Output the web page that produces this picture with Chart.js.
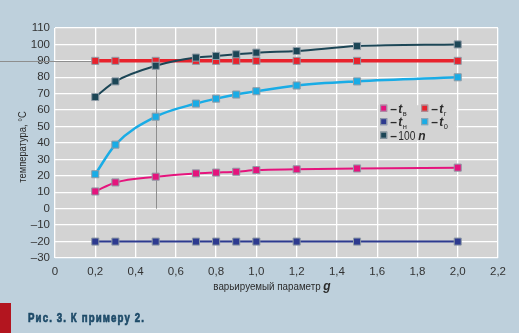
<!DOCTYPE html>
<html>
<head>
<meta charset="utf-8">
<script src="https://cdn.jsdelivr.net/npm/chart.js@4"></script>
<style>
  html, body { margin: 0; padding: 0; background: #bed0dc; }
  #wrap { width: 519px; height: 333px; position: relative; }
</style>
</head>
<body>
<div id="wrap"><canvas id="tempChart" width="519" height="333"></canvas></div>
<script>
// варьируемый параметр g
const gValues = [0.2, 0.3, 0.5, 0.7, 0.8, 0.9, 1.0, 1.2, 1.5, 2.0];
// температуры, °С
const tV = [10.5, 16, 19.5, 21.5, 22, 22.5, 23.5, 24, 24.5, 25];
const tG = [90, 90, 90, 90, 90, 90, 90, 90, 90, 90];
const tN = [-20, -20, -20, -20, -20, -20, -20, -20, -20, -20];
const t0 = [21, 39, 56, 64, 67, 69.5, 71.5, 75, 77.5, 80];
const n100 = [68, 77.5, 87, 92, 93, 94, 95, 96, 99, 100];

const yTicks = [-30, -20, -10, 0, 10, 20, 30, 40, 50, 60, 70, 80, 90, 100, 110];
const xTicks = [0, 0.2, 0.4, 0.6, 0.8, 1.0, 1.2, 1.4, 1.6, 1.8, 2.0, 2.2];

const FONT = '"Liberation Sans Narrow", "Liberation Sans", Arial, sans-serif';

function pts(ys) {
  return gValues.map((g, i) => ({ x: g, y: ys[i] }));
}

function series(label, ys, color, width) {
  return {
    label: label,
    data: pts(ys),
    borderColor: color,
    backgroundColor: color,
    borderWidth: width,
    pointStyle: 'rect',
    pointRadius: 5,
    pointBorderColor: '#8f9ba6',
    pointBorderWidth: 1,
    cubicInterpolationMode: 'monotone',
    fill: false
  };
}

const colors = {
  v: '#e5147d',
  g: '#e8222c',
  n: '#2d3a8f',
  o: '#19ace6',
  n100: '#1c4656'
};

const legendItems = [
  { c: colors.v, t: 't', sub: 'в', col: 0, row: 0 },
  { c: colors.g, t: 't', sub: 'г', col: 1, row: 0 },
  { c: colors.n, t: 't', sub: 'н', col: 0, row: 1 },
  { c: colors.o, t: 't', sub: '0', col: 1, row: 1 },
  { c: colors.n100, t: 'n', pre: '100 ', sub: '', col: 0, row: 2 }
];

// text squeezed horizontally to a narrow look
function narrowText(ctx, text, x, y, sx, stroke) {
  ctx.save();
  ctx.translate(x, y);
  ctx.scale(sx, 1);
  ctx.fillText(text, 0, 0);
  if (stroke) {
    ctx.strokeStyle = ctx.fillStyle;
    ctx.lineWidth = stroke;
    ctx.strokeText(text, 0, 0);
  }
  ctx.restore();
}

const decor = {
  id: 'decor',
  beforeDraw(chart) {
    const { ctx, chartArea: a } = chart;
    ctx.save();
    ctx.fillStyle = '#d3d3d3';
    ctx.fillRect(a.left, a.top, a.right - a.left, a.bottom - a.top);
    ctx.restore();
  },
  beforeDatasetsDraw(chart) {
    const { ctx, scales: { x, y } } = chart;
    ctx.save();
    // legend panel hides the grid behind it
    ctx.fillStyle = '#d3d3d3';
    const px0 = x.getPixelForValue(1.6) + 1, px1 = x.getPixelForValue(2.0) - 1;
    const py0 = y.getPixelForValue(63), py1 = y.getPixelForValue(41.5);
    ctx.fillRect(px0, py0, px1 - px0, py1 - py0);
    // guide lines at g = 0,5 and t = 90
    ctx.strokeStyle = '#8e8e8e';
    ctx.lineWidth = 1;
    ctx.beginPath();
    const y90 = Math.round(y.getPixelForValue(90)) + 0.5;
    ctx.moveTo(0, y90);
    ctx.lineTo(x.getPixelForValue(0.2), y90);
    const x05 = Math.round(x.getPixelForValue(0.5)) + 0.5;
    ctx.moveTo(x05, y.getPixelForValue(90));
    ctx.lineTo(x05, y.getPixelForValue(0));
    ctx.stroke();
    ctx.restore();
  },
  afterDraw(chart) {
    const { ctx, scales: { x, y } } = chart;
    ctx.save();
    ctx.textBaseline = 'alphabetic';
    ctx.textAlign = 'left';

    // legend
    const lx = x.getPixelForValue(1.6) + 3;
    const ly = y.getPixelForValue(61.5) - 3;
    legendItems.forEach(it => {
      const mx = lx + it.col * 41;
      const my = ly + it.row * 13.5;
      ctx.fillStyle = it.c;
      ctx.fillRect(mx, my, 7, 7);
      ctx.strokeStyle = '#9aa4ad';
      ctx.lineWidth = 1;
      ctx.strokeRect(mx + 0.5, my + 0.5, 6, 6);
      ctx.fillStyle = '#2b2b2b';
      let tx = mx + 10;
      const base = my + 8;
      ctx.font = 'bold 12px ' + FONT;
      ctx.fillText('–', tx, base);
      tx += ctx.measureText('–').width + 1.5;
      if (it.pre) {
        ctx.font = '12px ' + FONT;
        narrowText(ctx, it.pre, tx, base, 0.85);
        tx += ctx.measureText(it.pre).width * 0.85;
      }
      ctx.font = 'italic bold 12px ' + FONT;
      ctx.fillText(it.t, tx, base);
      tx += ctx.measureText(it.t).width;
      if (it.sub) {
        ctx.font = '7.5px ' + FONT;
        ctx.fillText(it.sub, tx + 0.5, base + 3);
      }
    });

    // axis titles
    ctx.fillStyle = '#2b2b2b';
    const sq = 0.85;
    ctx.font = '11.5px ' + FONT;
    const xt = 'варьируемый параметр ';
    const w1 = ctx.measureText(xt).width * sq;
    ctx.font = 'italic bold 12px ' + FONT;
    const w2 = ctx.measureText('g').width;
    const sx = 272 - (w1 + w2) / 2;
    ctx.font = '11.5px ' + FONT;
    narrowText(ctx, xt, sx, 290, sq);
    ctx.font = 'italic bold 12px ' + FONT;
    ctx.fillText('g', sx + w1, 290);

    ctx.save();
    ctx.translate(26, 147);
    ctx.rotate(-Math.PI / 2);
    ctx.textAlign = 'center';
    ctx.font = '11px ' + FONT;
    ctx.scale(0.85, 1);
    ctx.fillText('температура, °С', 0, 0);
    ctx.restore();

    // caption
    ctx.fillStyle = '#b3151f';
    ctx.fillRect(0, 303, 11, 30);
    ctx.fillStyle = '#1d4a68';
    ctx.font = 'bold 13px ' + FONT;
    ctx.textAlign = 'left';
    const cap = 'Рис. 3. К примеру 2.';
    if ('letterSpacing' in ctx) ctx.letterSpacing = '1.5px';
    const cw = ctx.measureText(cap).width;
    narrowText(ctx, cap, 28, 322, 117 / cw, 0.7);
    ctx.restore();
  }
};

const config = {
  type: 'line',
  data: {
    datasets: [
      series('t_н', tN, colors.n, 2),
      series('t_в', tV, colors.v, 2),
      series('t_0', t0, colors.o, 2.5),
      series('100 n', n100, colors.n100, 2),
      series('t_г', tG, colors.g, 3.5)
    ]
  },
  options: {
    responsive: false,
    animation: false,
    layout: { padding: { left: 0, top: 28, right: 21, bottom: 55 } },
    plugins: {
      legend: { display: false },
      tooltip: { enabled: false }
    },
    scales: {
      x: {
        type: 'linear',
        min: 0,
        max: 2.2,
        afterBuildTicks: s => { s.ticks = xTicks.map(v => ({ value: v })); },
        afterFit: s => { s.height = 20; },
        grid: { color: '#ffffff', lineWidth: 1.3, drawTicks: false },
        border: { display: false },
        ticks: {
          autoSkip: false,
          maxRotation: 0,
          padding: 7,
          color: '#333333',
          font: { family: FONT, size: 11.5 },
          callback: v => v === 0 ? '0' : v.toFixed(1).replace('.', ',')
        }
      },
      y: {
        min: -30,
        max: 110,
        afterBuildTicks: s => { s.ticks = yTicks.map(v => ({ value: v })); },
        afterFit: s => { s.width = 55; },
        grid: { color: '#ffffff', lineWidth: 1.3, drawTicks: false },
        border: { display: false },
        ticks: {
          autoSkip: false,
          padding: 5,
          color: '#333333',
          font: { family: FONT, size: 11.5 },
          callback: v => v < 0 ? '–' + Math.abs(v) : String(v)
        }
      }
    }
  },
  plugins: [decor]
};

var ctx = document.getElementById('tempChart');
var tempChart = new Chart(ctx, config);
</script>
</body>
</html>
